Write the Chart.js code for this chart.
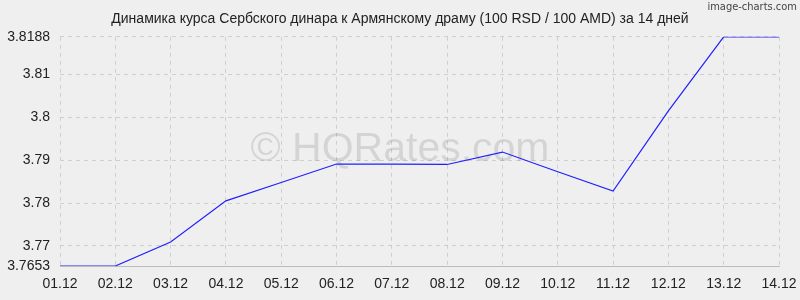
<!DOCTYPE html>
<html>
<head>
<meta charset="utf-8">
<script src="https://cdn.jsdelivr.net/npm/chart.js@4"></script>
<style>
  html, body { margin: 0; padding: 0; background: #efefef; }
  #wrap { width: 800px; height: 300px; }
</style>
</head>
<body>
<div id="wrap"><canvas id="chart" width="800" height="300"></canvas></div>
<script>
const titleText = 'Динамика курса Сербского динара к Армянскому драму (100 RSD / 100 AMD) за 14 дней'
const days = ['01.12', '02.12', '03.12', '04.12', '05.12', '06.12', '07.12',
  '08.12', '09.12', '10.12', '11.12', '12.12', '13.12', '14.12']
const rates = [3.7653, 3.7653, 3.7709, 3.7805, 3.7848, 3.7891, 3.7891,
  3.7890, 3.7919, 3.7873, 3.7828, 3.8015, 3.8188, 3.8188]
const yTicks = [3.7653, 3.77, 3.78, 3.79, 3.8, 3.81, 3.8188]

const lineColor = '#2020ff'
const gridColor = '#cfcfcf'
const textColor = '#222222'
const fontFamily = '"Liberation Sans", Arial, sans-serif'

// background, watermark and the little credit in the corner
const decor = {
  id: 'decor',
  beforeDraw (chart) {
    const ctx = chart.ctx
    ctx.save()
    ctx.fillStyle = '#efefef'
    ctx.fillRect(0, 0, chart.width, chart.height)
    ctx.restore()
  },
  beforeDatasetsDraw (chart) {
    const ctx = chart.ctx
    ctx.save()
    ctx.font = '41px ' + fontFamily
    ctx.fillStyle = 'rgba(0,0,0,0.11)'
    ctx.textAlign = 'center'
    ctx.textBaseline = 'middle'
    ctx.fillText('© HQRates.com', 400, 150)
    ctx.restore()
  },
  afterDraw (chart) {
    const ctx = chart.ctx
    ctx.save()
    ctx.font = '11px "DejaVu Sans Condensed", sans-serif'
    ctx.fillStyle = '#444'
    ctx.textAlign = 'right'
    ctx.textBaseline = 'middle'
    ctx.fillText('image-charts.com', 797, 7)
    ctx.restore()
  }
}

new Chart(document.getElementById('chart'), {
  type: 'line',
  data: {
    labels: days,
    datasets: [{
      data: rates,
      borderColor: lineColor,
      borderWidth: 1.2,
      pointRadius: 0,
      tension: 0,
      fill: false
    }]
  },
  options: {
    responsive: false,
    animation: false,
    layout: { padding: 0 },
    plugins: {
      legend: { display: false },
      tooltip: { enabled: false },
      title: {
        display: true,
        text: titleText,
        color: textColor,
        font: { family: fontFamily, size: 14, weight: 'normal' },
        padding: { top: 11, bottom: 9 }
      }
    },
    scales: {
      x: {
        offset: false,
        afterFit (scale) {
          scale.height = 34
          scale.paddingLeft = 0
          scale.paddingRight = 0
        },
        border: { display: true, color: '#bbbbbb', dash: [4, 4] },
        grid: { color: gridColor, drawTicks: false },
        ticks: {
          color: textColor,
          maxRotation: 0,
          autoSkip: false,
          padding: 10,
          font: { family: fontFamily, size: 14 }
        }
      },
      y: {
        min: yTicks[0],
        max: yTicks[yTicks.length - 1],
        afterFit (scale) { scale.width = 60 },
        afterBuildTicks (scale) { scale.ticks = yTicks.map(v => ({ value: v })) },
        border: { display: false, dash: [4, 4] },
        grid: { color: gridColor, drawTicks: false },
        ticks: {
          color: textColor,
          padding: 10,
          font: { family: fontFamily, size: 14 },
          callback: v => String(+v.toFixed(4))
        }
      },
      // empty strip on the right so the title stays centred on the page
      spacer: {
        position: 'right',
        min: 0,
        max: 1,
        afterFit (scale) { scale.width = 21 },
        border: { display: false },
        grid: { display: false },
        ticks: { display: false }
      }
    }
  },
  plugins: [decor]
})
</script>
</body>
</html>
